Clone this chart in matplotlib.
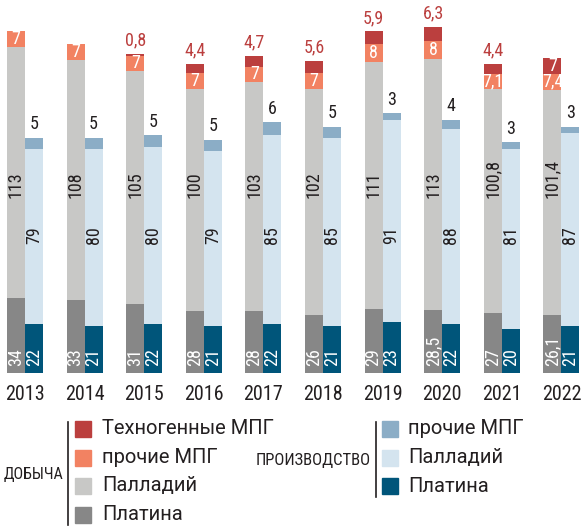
import matplotlib
matplotlib.use('Agg')
import matplotlib.pyplot as plt
from matplotlib.patches import Rectangle
from matplotlib.lines import Line2D

plt.rcParams['font.family'] = ['Roboto Condensed', 'DejaVu Sans']

years = ['2013', '2014', '2015', '2016', '2017', '2018', '2019', '2020', '2021', '2022']
# добыча
mine_pt = [34, 33, 31, 28, 28, 26, 29, 28.5, 27, 26.1]
mine_pd = [113, 108, 105, 100, 103, 102, 111, 113, 100.8, 101.4]
mine_other = [7, 7, 7, 7, 7, 7, 8, 8, 7.1, 7.4]
mine_tech = [0, 0, 0.8, 4.4, 4.7, 5.6, 5.9, 6.3, 4.4, 7]
# производство
prod_pt = [22, 21, 22, 21, 22, 21, 23, 22, 20, 21]
prod_pd = [79, 80, 80, 79, 85, 85, 91, 88, 81, 87]
prod_other = [5, 5, 5, 5, 6, 5, 3, 4, 3, 3]

c_tech = '#bb3f3e'
c_other = '#f28262'
c_pd = '#c8c8c6'
c_pt = '#878787'
c_p_other = '#8badc6'
c_p_pd = '#d4e4ef'
c_p_pt = '#00557a'
c_text = '#231f20'

def fmt(v):
    return str(int(v)) if v == int(v) else str(v).replace('.', ',')

fig = plt.figure(figsize=(5.86, 5.32), dpi=100)
ax = fig.add_axes([0, 159/532, 1, 373/532])
ax.set_xlim(-25/59.6, 561/59.6)
ax.set_ylim(0, 373/2.22)
for s in ax.spines.values():
    s.set_visible(False)
ax.set_yticks([])

w = 0.302
x = list(range(len(years)))
xl = [i - w/2 for i in x]
xr = [i + w/2 for i in x]

b1 = mine_pt
b2 = [a + b for a, b in zip(b1, mine_pd)]
b3 = [a + b for a, b in zip(b2, mine_other)]
ax.bar(xl, mine_pt, w, color=c_pt)
ax.bar(xl, mine_pd, w, bottom=b1, color=c_pd)
ax.bar(xl, mine_other, w, bottom=b2, color=c_other)
ax.bar(xl, mine_tech, w, bottom=b3, color=c_tech)

p2 = [a + b for a, b in zip(prod_pt, prod_pd)]
ax.bar(xr, prod_pt, w, color=c_p_pt)
ax.bar(xr, prod_pd, w, bottom=prod_pt, color=c_p_pd)
ax.bar(xr, prod_other, w, bottom=p2, color=c_p_other)

fs = 13
for i in x:
    ax.text(xl[i], 3, fmt(mine_pt[i]), rotation=90, ha='center', va='bottom',
            color='white', fontsize=fs)
    ax.text(xl[i], 79, fmt(mine_pd[i]), rotation=90, ha='center', va='bottom',
            color=c_text, fontsize=fs)
    ax.text(xl[i], b2[i] + mine_other[i]/2, fmt(mine_other[i]), ha='center',
            va='center', color='white', fontsize=fs)
    top = b3[i] + mine_tech[i]
    if mine_tech[i] >= 7:
        ax.text(xl[i], b3[i] + mine_tech[i]/2, fmt(mine_tech[i]), ha='center',
                va='center', color='white', fontsize=fs)
    elif mine_tech[i] > 0:
        ax.text(xl[i], top + 2, fmt(mine_tech[i]), ha='center', va='bottom',
                color=c_tech, fontsize=fs)
    ax.text(xr[i], 3, fmt(prod_pt[i]), rotation=90, ha='center', va='bottom',
            color='white', fontsize=fs)
    ax.text(xr[i], 62, fmt(prod_pd[i]), rotation=90, ha='center', va='center',
            color=c_text, fontsize=fs)
    ax.text(xr[i], p2[i] + prod_other[i] + 2, fmt(prod_other[i]), ha='center',
            va='bottom', color=c_text, fontsize=fs)

ax.set_xticks(x)
ax.set_xticklabels(years, fontsize=14.5, color=c_text)
ax.tick_params(axis='x', length=0, pad=9)

# legend
def px(xp, yp):
    return xp / 586, 1 - yp / 532

def square(xp, yp, color):
    fx, fy = px(xp, yp + 16)
    fig.add_artist(Rectangle((fx, fy), 16/586, 16/532, color=color,
                             transform=fig.transFigure))

left_items = [('Техногенные МПГ', c_tech), ('прочие МПГ', c_other),
              ('Палладий', c_pd), ('Платина', c_pt)]
right_items = [('прочие МПГ', c_p_other), ('Палладий', c_p_pd), ('Платина', c_p_pt)]

for k, (lab, col) in enumerate(left_items):
    yc = 429 + 28.5 * k
    square(75, yc - 8, col)
    fig.text(*px(102, yc), lab, fontsize=14.5, va='center', ha='left', color=c_text,
             family=['Roboto', 'DejaVu Sans'])
for k, (lab, col) in enumerate(right_items):
    yc = 429 + 28.5 * k
    square(382, yc - 8, col)
    fig.text(*px(408, yc), lab, fontsize=14.5, va='center', ha='left', color=c_text,
             family=['Roboto', 'DejaVu Sans'])

fig.add_artist(Line2D([68/586, 68/586], [1 - 422/532, 1 - 525/532], color=c_text,
                      lw=1.2, transform=fig.transFigure))
fig.add_artist(Line2D([376/586, 376/586], [1 - 422/532, 1 - 497/532], color=c_text,
                      lw=1.2, transform=fig.transFigure))
fig.text(*px(63, 475), 'ДОБЫЧА', fontsize=11.5, ha='right', va='center', color=c_text)
fig.text(*px(371, 460), 'ПРОИЗВОДСТВО', fontsize=12, ha='right', va='center', color=c_text)

fig.savefig('out.png', dpi=100)
